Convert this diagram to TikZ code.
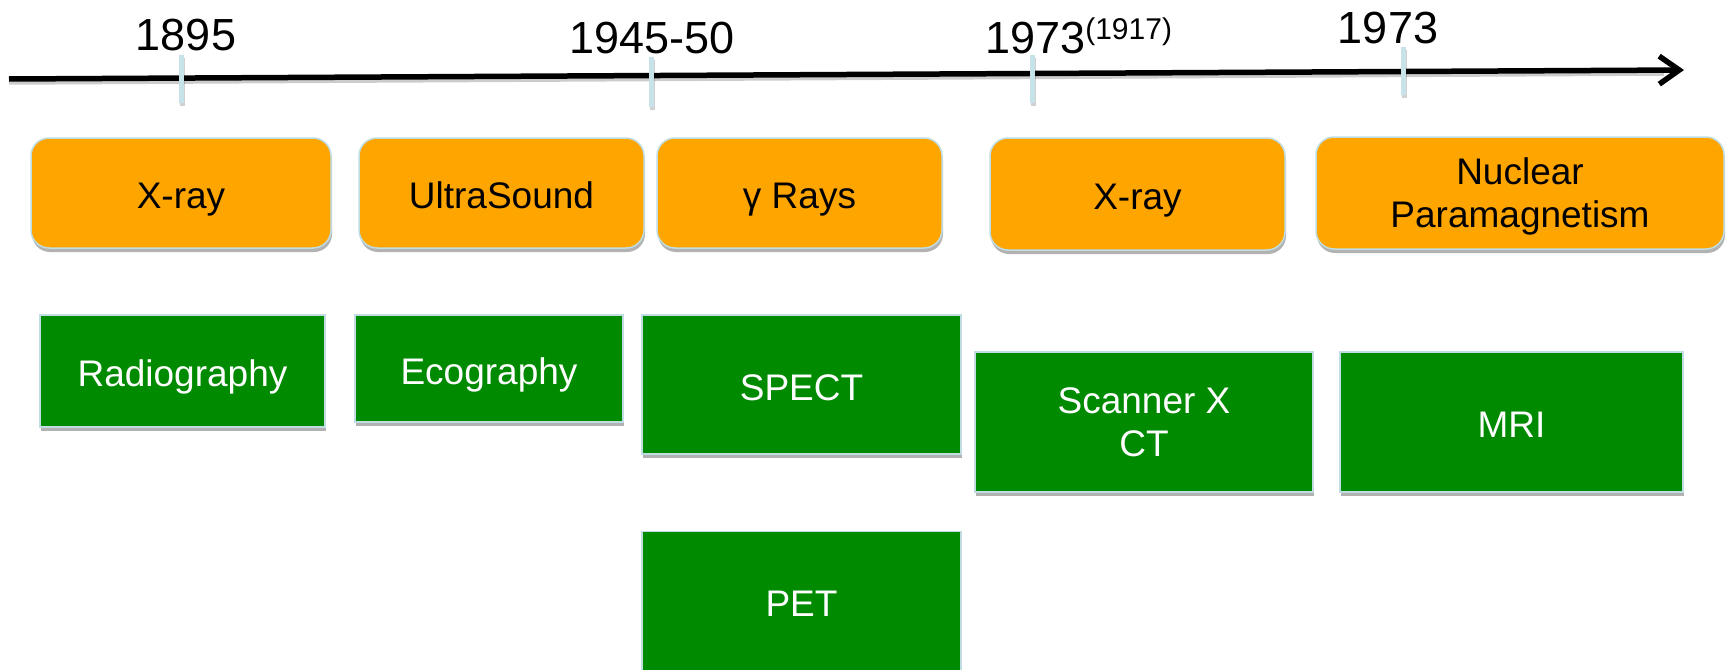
\documentclass[tikz,border=0pt]{standalone}
\usepackage{fontspec}
\setmainfont{Liberation Sans}
\usetikzlibrary{shadows,arrows.meta}
\definecolor{orbox}{HTML}{FFA500}
\definecolor{grbox}{HTML}{008A00}
\definecolor{edgec}{HTML}{BFDDE3}
\definecolor{tickc}{HTML}{C6E3E9}
\begin{document}
\begin{tikzpicture}[x=1pt,y=-1pt,
  obox/.style={rectangle, rounded corners=18pt, fill=orbox, draw=edgec, line width=1.5pt,
    align=center, inner sep=0pt, text depth=0pt, font=\fontsize{37}{43}\selectfont,
    drop shadow={shadow xshift=1pt, shadow yshift=-4pt, opacity=0.3, fill=black}},
  gbox/.style={rectangle, fill=grbox, draw=edgec, line width=1.5pt, text=white,
    align=center, inner sep=0pt, text depth=0pt, font=\fontsize{37}{43}\selectfont,
    drop shadow={shadow xshift=1pt, shadow yshift=-4pt, opacity=0.3, fill=black}},
  oneline/.style={text height=31pt},
  year/.style={font=\fontsize{45}{45}\selectfont, anchor=base, inner sep=0pt},
  tickmark/.style={line width=5pt, draw=tickc},
  tickshadow/.style={line width=5pt, draw=black, opacity=0.18}]
\useasboundingbox (0,0) rectangle (1728,669);
\fill[white] (0,0) rectangle (1728,669);

% axis
\coordinate (aL) at (9,79);
\coordinate (aR) at (1684,70);
\draw[line width=5.5pt, black, opacity=0.2] ([shift={(0,3)}]aL) -- ([shift={(-20,3)}]aR);
\draw[line width=5.5pt, -{Straight Barb[length=20pt,width=28pt]}] (aL) -- (aR);

% ticks
\foreach \x/\a/\b in {181/55/103, 651/57/107, 1032/55/103, 1403/47/95}{
  \draw[tickshadow] (\x+1.5,\a+3) -- (\x+1.5,\b+3);
  \draw[tickmark] (\x,\a) -- (\x,\b);
}

% years
\node[year] (y1) at (186,51) {1895};
\node[year] (y2) at (652,53) {1945-50};
\node[year, anchor=base west] (y3) at (985,54) {1973\raisebox{14pt}{\fontsize{30}{30}\selectfont(1917)}};
\node[year] (y4) at (1388,44) {1973};

% orange boxes
\node[obox, oneline, minimum width=300pt, minimum height=110pt] (o1) at (181,193) {X-ray};
\node[obox, oneline, minimum width=285pt, minimum height=110pt] (o2) at (501.5,193) {UltraSound};
\node[obox, oneline, minimum width=285pt, minimum height=110pt] (o3) at (799.5,193) {γ Rays};
\node[obox, oneline, minimum width=295pt, minimum height=112pt] (o4) at (1137.5,194) {X-ray};
\node[obox, minimum width=408pt, minimum height=112pt] (o5) at (1520,193) {Nuclear\\Paramagnetism};

% green boxes
\node[gbox, oneline, minimum width=285pt, minimum height=112pt] (g1) at (182.5,371) {Radiography};
\node[gbox, oneline, minimum width=268pt, minimum height=107pt] (g2) at (489,368.5) {Ecography};
\node[gbox, oneline, minimum width=319pt, minimum height=139pt] (g3) at (801.5,384.5) {SPECT};
\node[gbox, oneline, minimum width=319pt, minimum height=139pt] (g4) at (801.5,601) {PET};
\node[gbox, minimum width=338pt, minimum height=140pt] (g5) at (1144,422) {Scanner X\\CT};
\node[gbox, oneline, minimum width=343pt, minimum height=140pt] (g6) at (1511.5,422) {MRI};
\end{tikzpicture}
\end{document}
